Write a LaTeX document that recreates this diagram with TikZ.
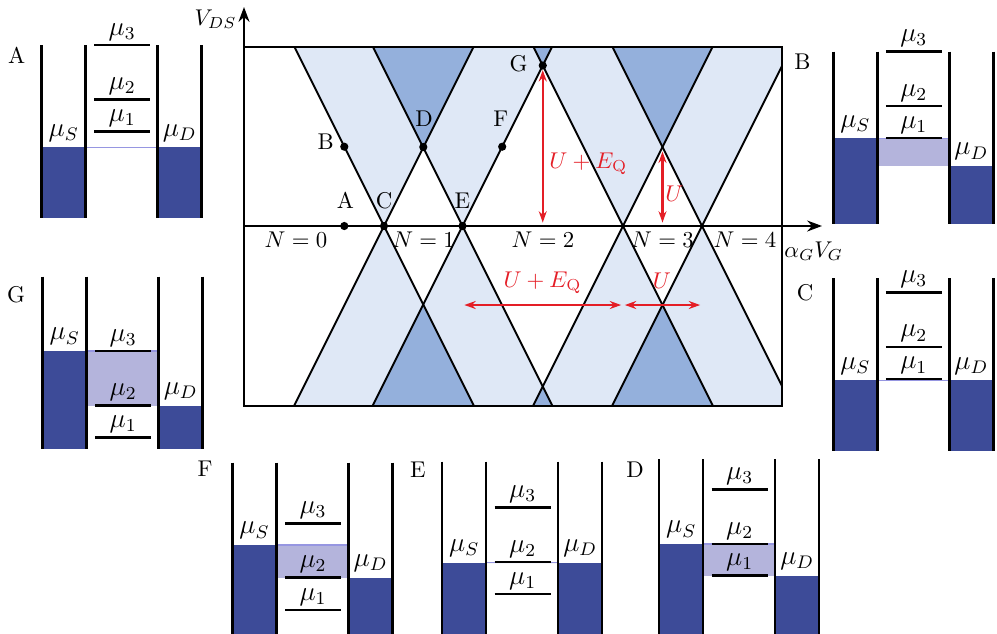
\documentclass[tikz,border=0pt]{standalone}
\usetikzlibrary{arrows.meta}
\definecolor{leadc}{RGB}{61,75,152}
\definecolor{dotc}{RGB}{180,180,220}
\definecolor{dotline}{RGB}{150,150,225}
\definecolor{lightc}{RGB}{223,232,246}
\definecolor{darkc}{RGB}{148,176,220}
\definecolor{redc}{RGB}{228,30,38}
\tikzset{
 wall/.style={line width=1.1pt},
 levelline/.style={line width=1.1pt},
 lvlab/.style={above, inner sep=1.8pt, font=\large},
 leadlab/.style={above, inner sep=2.3pt, font=\large},
 cline/.style={line width=0.8pt},
 frameline/.style={line width=1pt},
 axisarrow/.style={line width=1pt,-{Stealth[length=6.5pt,width=4.8pt]}},
 redarrow/.style={redc, line width=0.9pt, {Stealth[length=5pt,width=3.5pt]}-{Stealth[length=5pt,width=3.5pt]}},
 bigdot/.style={circle, fill=black, inner sep=0pt, minimum size=3.6pt},
 redlab/.style={text=redc},
}
\newcommand\qdpanel[9]{%
\begin{scope}[shift={(#1,#2)}]
 \fill[leadc] (0,#7) rectangle (44,#9);
 \fill[leadc] (116,#8) rectangle (160,#9);
 \fill[dotc] (44,#7) rectangle (116,#8);
 \draw[dotline, line width=0.5pt] (44,#7) -- (116,#7);
 \draw[wall] (0,0) -- (0,#9) (44,0) -- (44,#9) (116,0) -- (116,#9) (160,0) -- (160,#9);
 \draw[levelline] (52.5,#4) -- (108.5,#4);
 \draw[levelline] (52.5,#5) -- (108.5,#5);
 \draw[levelline] (52.5,#6) -- (108.5,#6);
 \node[lvlab] (#3m3) at (80.5,#4) {$\mu_3$};
 \node[lvlab] (#3m2) at (80.5,#5) {$\mu_2$};
 \node[lvlab] (#3m1) at (80.5,#6) {$\mu_1$};
 \node[leadlab] (#3s) at (22,#7) {$\mu_S$};
 \node[leadlab] (#3d) at (138,#8) {$\mu_D$};
\end{scope}}
\begin{document}
\begin{tikzpicture}[x=0.4386pt,y=-0.4386pt]
\useasboundingbox (0,0) rectangle (997,633);
% ---------- main stability diagram ----------
\begin{scope}
 \clip (244,47) rectangle (782,406);
 \foreach \x in {384,462.5,623,702} {
  \fill[lightc] (\x,226) -- ({\x-120},-14) -- ({\x+120},-14) -- cycle;
  \fill[lightc] (\x,226) -- ({\x-120},466) -- ({\x+120},466) -- cycle;
 }
 \foreach \a/\b in {384/462.5,462.5/623,623/702} {
  \begin{scope}
   \clip (\a,226) -- ({\a-120},-14) -- ({\a+120},-14) -- cycle;
   \fill[darkc] (\b,226) -- ({\b-120},-14) -- ({\b+120},-14) -- cycle;
  \end{scope}
  \begin{scope}
   \clip (\a,226) -- ({\a-120},466) -- ({\a+120},466) -- cycle;
   \fill[darkc] (\b,226) -- ({\b-120},466) -- ({\b+120},466) -- cycle;
  \end{scope}
 }
 \foreach \x in {384,462.5,623,702} {
  \draw[cline] ({\x-120},-14) -- ({\x+120},466);
  \draw[cline] ({\x+120},-14) -- ({\x-120},466);
 }
\end{scope}
\draw[frameline] (244,47) rectangle (782,406);
\coordinate (o1) at (244,406);
\coordinate (ytip) at (244,7);
\coordinate (o2) at (244,226);
\coordinate (xtip) at (822,226);
\draw[axisarrow] (o1) -- (ytip);
\draw[axisarrow] (o2) -- (xtip);
\node[anchor=east, inner sep=0pt] (vds) at (237,19) {$V_{DS}$};
\node[anchor=west, inner sep=0pt] (avg) at (784,251) {$\alpha_G V_G$};
% points
\node[bigdot] (pA) at (344.3,226) {};
\node[bigdot] (pB) at (344.3,146.7) {};
\node[bigdot] (pC) at (384,226) {};
\node[bigdot] (pD) at (423.3,147) {};
\node[bigdot] (pE) at (462.5,226) {};
\node[bigdot] (pF) at (502.2,146.7) {};
\node[bigdot] (pG) at (542.75,65.5) {};
\node (lA) at (345.4,200.5) {A};
\node (lB) at (325.7,141.7) {B};
\node (lC) at (384,200.5) {C};
\node (lD) at (424,118.3) {D};
\node (lE) at (462.5,200.5) {E};
\node (lF) at (500.7,118.3) {F};
\node (lG) at (518.6,63.3) {G};
% N labels
\node (n0) at (296,239.5) {$N=0$};
\node (n1) at (423.6,239.5) {$N=1$};
\node (n2) at (543,239.5) {$N=2$};
\node (n3) at (662.5,239.5) {$N=3$};
\node (n4) at (745,239.5) {$N=4$};
% red arrows
\coordinate (a2) at (542.75,226);
\coordinate (u3top) at (662.5,147);
\coordinate (u3bot) at (662.5,226);
\coordinate (h1) at (462.5,305);
\coordinate (h2) at (623,305);
\coordinate (h3) at (702,305);
\draw[redarrow, shorten >=1.5pt] (pG) -- (a2);
\draw[redarrow, shorten <=2pt, shorten >=1.5pt] (u3top) -- (u3bot);
\draw[redarrow, shorten <=0.8pt, shorten >=0.8pt] (h1) -- (h2);
\draw[redarrow, shorten <=0.8pt, shorten >=0.8pt] (h2) -- (h3);
\node[redlab, anchor=west, inner sep=0pt] (t1) at (549,164) {$U+E_{\mathrm{Q}}$};
\node[redlab, anchor=west, inner sep=0pt] (t2) at (665,194) {$U$};
\node[redlab] (t3) at (542.5,283) {$U+E_{\mathrm{Q}}$};
\node[redlab] (t4) at (662,281) {$U$};
% ---------- side panels ----------
\qdpanel{41.7}{45}{A}{0}{54.5}{86.5}{102.3}{102.3}{172.6}
\qdpanel{833.3}{51.7}{B}{0}{54.5}{86.5}{86.5}{114.3}{172.6}
\qdpanel{42.7}{276.7}{G}{74.3}{128.8}{160.8}{74.3}{128.8}{172.6}
\qdpanel{833.3}{278.3}{C}{14}{68.5}{100.5}{102}{102}{172.6}
\qdpanel{232.5}{462.7}{F}{60.6}{115}{147.3}{82.3}{115}{171.5}
\qdpanel{442.2}{461.7}{E}{45.6}{100.5}{132.3}{101}{101}{172.5}
\qdpanel{659.2}{459.3}{D}{30}{84.7}{116.4}{84.7}{116.4}{174.5}
\node (pnA) at (16.7,55.5) {A};
\node (pnB) at (802.5,61.5) {B};
\node (pnG) at (16,295) {G};
\node (pnC) at (805,292.5) {C};
\node (pnF) at (205,469) {F};
\node (pnE) at (418,470) {E};
\node (pnD) at (635,470) {D};
\end{tikzpicture}
\end{document}
